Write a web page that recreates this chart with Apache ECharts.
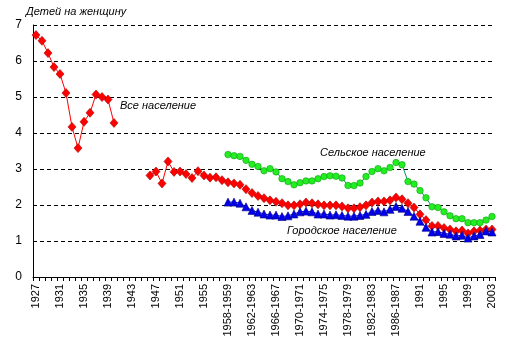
<!DOCTYPE html>
<html>
<head>
<meta charset="utf-8">
<script src="https://cdn.jsdelivr.net/npm/echarts@6/dist/echarts.min.js"></script>
<style>
html,body{margin:0;padding:0;background:#fff;}
#c{width:509px;height:356px;}
</style>
</head>
<body>
<div id="c"></div>
<script>
var categories = [
  '1927','1928','1929','1930','1931','1932','1933','1934','1935','1936',
  '1937','1938','1939','1940','1941','1942','1943','1944','1945','1946',
  '1947','1948','1949','1950','1951','1952','1953','1954','1955','1956',
  '1957','1958',
  '1958-1959','1959-1960','1960-1961','1961-1962','1962-1963','1963-1964',
  '1964-1965','1965-1966','1966-1967','1967-1968','1968-1969','1969-1970',
  '1970-1971','1971-1972','1972-1973','1973-1974','1974-1975','1975-1976',
  '1976-1977','1977-1978','1978-1979','1979-1980','1980-1981','1981-1982',
  '1982-1983','1983-1984','1984-1985','1985-1986','1986-1987','1987-1988',
  '1988-1989','1989-1990',
  '1991','1992','1993','1994','1995','1996','1997','1998','1999','2000',
  '2001','2002','2003'
];

// Все население (1927-2003, null = no data)
var totalValues = [
  6.72,6.56,6.22,5.83,5.64,5.11,4.17,3.58,4.31,4.56,
  5.07,5.00,4.93,4.28,null,null,null,null,null,2.82,
  2.93,2.60,3.21,2.92,2.93,2.86,2.75,2.94,2.82,2.76,
  2.77,2.69,
  2.63,2.60,2.56,2.44,2.33,2.25,2.19,2.13,2.09,2.05,
  1.99,1.99,2.02,2.07,2.05,2.02,1.99,1.99,1.99,1.96,
  1.91,1.91,1.94,1.99,2.07,2.10,2.10,2.13,2.21,2.16,
  2.05,1.93,
  1.74,1.58,1.42,1.42,1.36,1.32,1.27,1.29,1.21,1.27,
  1.29,1.32,1.32
];

// Сельское население (from 1958-1959)
var ruralValues = [
  3.40,3.37,3.35,3.24,3.13,3.07,2.95,3.01,2.92,2.73,
  2.65,2.56,2.62,2.67,2.67,2.73,2.79,2.81,2.80,2.75,
  2.54,2.54,2.61,2.79,2.93,3.01,2.95,3.04,3.18,3.12,
  2.65,2.58,2.40,2.20,1.95,1.93,1.81,1.70,1.62,1.62,
  1.51,1.51,1.51,1.58,1.68
];

// Городское население (from 1958-1959)
var urbanValues = [
  2.08,2.08,2.05,1.95,1.85,1.80,1.75,1.72,1.72,1.68,
  1.70,1.75,1.81,1.83,1.81,1.75,1.75,1.72,1.73,1.71,
  1.69,1.69,1.71,1.74,1.82,1.85,1.81,1.88,1.96,1.91,
  1.82,1.69,1.55,1.38,1.25,1.26,1.21,1.19,1.14,1.16,
  1.08,1.14,1.18,1.28,1.25
];

var subStart = categories.indexOf('1958-1959');
function pad(arr){ return new Array(subStart).fill(null).concat(arr); }

var FONT = '"Liberation Sans", Arial, sans-serif';
var chart = echarts.init(document.getElementById('c'));
chart.setOption({
  animation: false,
  backgroundColor: '#fff',
  grid: {left: 33, right: 14, top: 25, bottom: 79},
  xAxis: {
    type: 'category',
    data: categories,
    boundaryGap: true,
    axisLine: {lineStyle: {color: '#000', width: 1}},
    axisTick: {show: true, interval: 0, length: 4, lineStyle: {color: '#000'}},
    axisLabel: {interval: 3, rotate: 90, margin: 7, color: '#000', fontSize: 11, fontFamily: FONT},
    splitLine: {show: false}
  },
  yAxis: {
    type: 'value',
    min: 0, max: 7, interval: 1,
    axisLine: {show: true, lineStyle: {color: '#000', width: 1}},
    axisTick: {show: false},
    axisLabel: {margin: 11, color: '#000', fontSize: 12, fontFamily: FONT},
    splitLine: {show: true, lineStyle: {color: '#000', type: [4, 3], width: 1}}
  },
  series: [
    {
      name: 'Все население', type: 'line', data: totalValues, connectNulls: false,
      symbol: 'diamond', symbolSize: [8, 9], showAllSymbol: true,
      lineStyle: {color: '#ff0000', width: 1},
      itemStyle: {color: '#ff0000', borderColor: '#b00000', borderWidth: 0.6}
    },
    {
      name: 'Сельское население', type: 'line', data: pad(ruralValues),
      symbol: 'circle', symbolSize: 6.5, showAllSymbol: true,
      lineStyle: {color: '#0a8f6a', width: 1},
      itemStyle: {color: '#22ee22', borderColor: '#10a010', borderWidth: 0.6}
    },
    {
      name: 'Городское население', type: 'line', data: pad(urbanValues),
      symbol: 'triangle', symbolSize: [8, 8], showAllSymbol: true,
      lineStyle: {color: '#0000ff', width: 1},
      itemStyle: {color: '#0000ee', borderColor: '#000080', borderWidth: 0.6}
    }
  ],
  graphic: [
    {type: 'text', left: 26, top: 6, style: {text: 'Детей на женщину', font: 'italic 11px ' + FONT, fill: '#000'}},
    {type: 'text', left: 120, top: 100, style: {text: 'Все население', font: 'italic 11px ' + FONT, fill: '#000'}},
    {type: 'text', left: 320, top: 147, style: {text: 'Сельское население', font: 'italic 11px ' + FONT, fill: '#000'}},
    {type: 'text', left: 287, top: 225, style: {text: 'Городское население', font: 'italic 11px ' + FONT, fill: '#000'}}
  ]
});
</script>
</body>
</html>
